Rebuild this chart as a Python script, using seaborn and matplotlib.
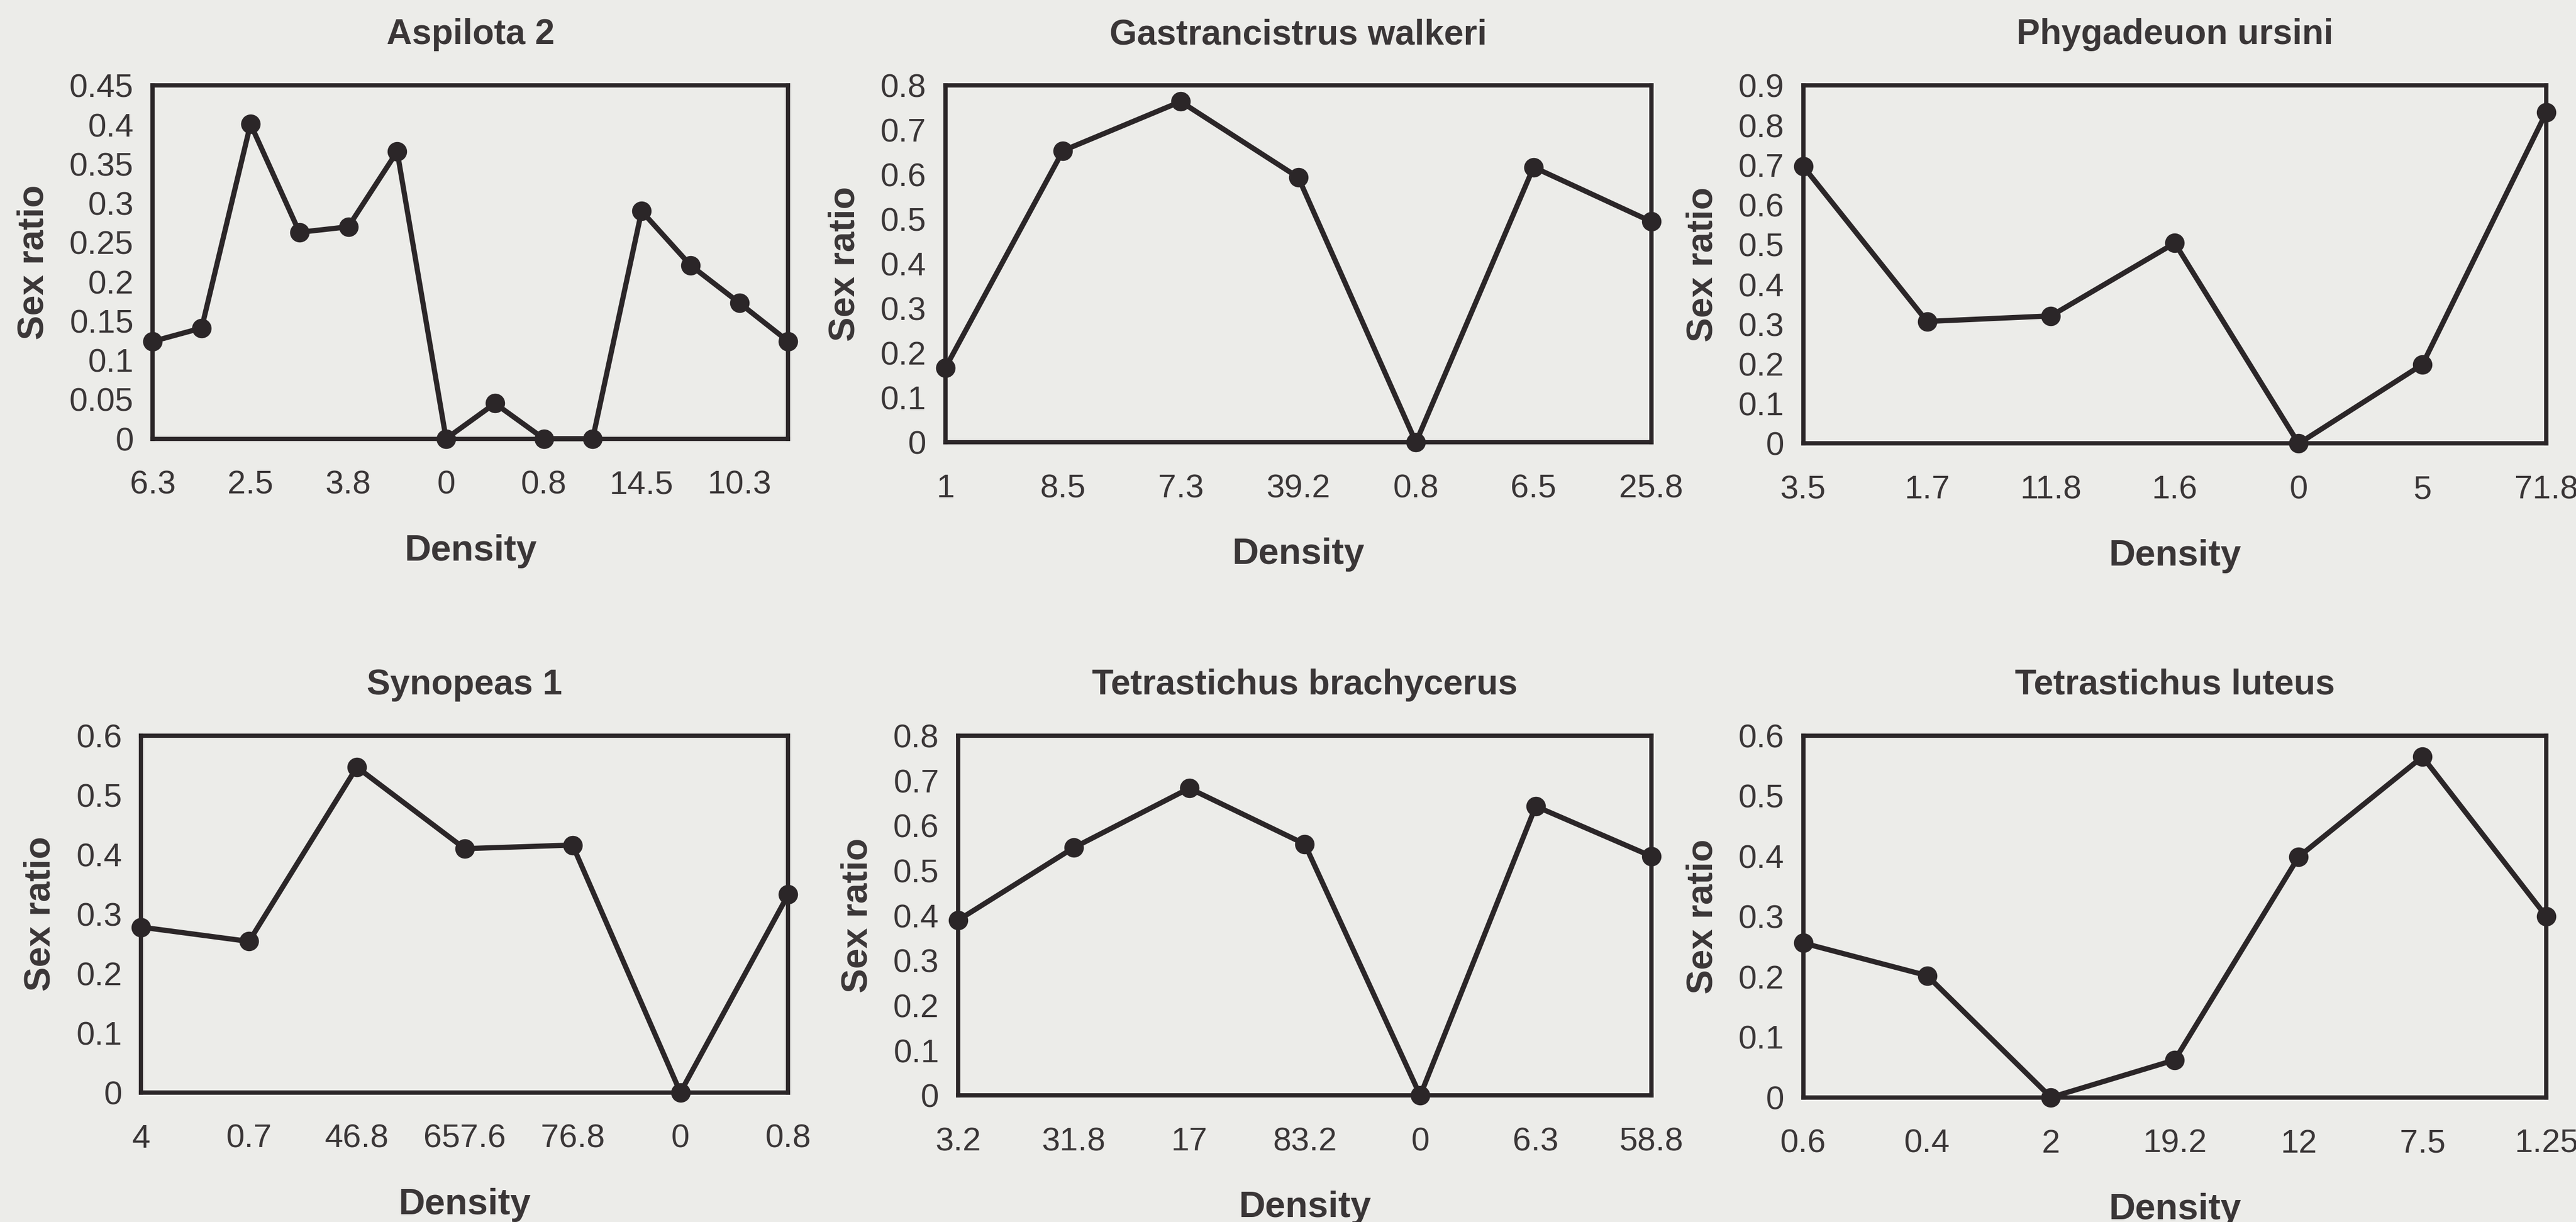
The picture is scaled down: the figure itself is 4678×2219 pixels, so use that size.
import numpy as np
import pandas as pd
import matplotlib
matplotlib.use("Agg")
import matplotlib.pyplot as plt
import seaborn as sns

# ---- data ----
titles = ["Aspilota 2", "Gastrancistrus walkeri", "Phygadeuon ursini",
          "Synopeas 1", "Tetrastichus brachycerus", "Tetrastichus luteus"]

aspilota_labels = ["6.3", "", "2.5", "", "3.8", "", "0", "", "0.8", "", "14.5", "", "10.3", ""]
aspilota_vals = [0.124, 0.141, 0.401, 0.263, 0.270, 0.366, 0.0, 0.045, 0.0, 0.0, 0.290, 0.221, 0.173, 0.124]

gastr_labels = ["1", "8.5", "7.3", "39.2", "0.8", "6.5", "25.8"]
gastr_vals = [0.167, 0.654, 0.764, 0.594, 0.0, 0.617, 0.495]

phyg_labels = ["3.5", "1.7", "11.8", "1.6", "0", "5", "71.8"]
phyg_vals = [0.697, 0.307, 0.321, 0.504, 0.0, 0.199, 0.833]

synop_labels = ["4", "0.7", "46.8", "657.6", "76.8", "0", "0.8"]
synop_vals = [0.278, 0.254, 0.547, 0.410, 0.416, 0.0, 0.333]

tbrach_labels = ["3.2", "31.8", "17", "83.2", "0", "6.3", "58.8"]
tbrach_vals = [0.390, 0.551, 0.683, 0.559, 0.0, 0.643, 0.532]

tlut_labels = ["0.6", "0.4", "2", "19.2", "12", "7.5", "1.25"]
tlut_vals = [0.256, 0.202, 0.0, 0.062, 0.399, 0.565, 0.300]

ymaxes = [0.45, 0.8, 0.9, 0.6, 0.8, 0.6]
ysteps = [0.05, 0.1, 0.1, 0.1, 0.1, 0.1]

# ---- style ----
sns.set_theme(style="white")
bg = "#ecece9"
ink = "#2b2628"
txt = "#3a3637"
plt.rcParams["font.family"] = ["Liberation Sans", "DejaVu Sans"]

fig = plt.figure(figsize=(4678 / 200, 2219 / 200), dpi=200, facecolor=bg)

rects = [
    (0.0593, 0.641, 0.306 - 0.0593, 0.930 - 0.641),
    (0.367, 0.638, 0.641 - 0.367, 0.930 - 0.638),
    (0.700, 0.637, 0.9885 - 0.700, 0.930 - 0.637),
    (0.0548, 0.106, 0.306 - 0.0548, 0.398 - 0.106),
    (0.372, 0.1035, 0.641 - 0.372, 0.398 - 0.1035),
    (0.700, 0.102, 0.9885 - 0.700, 0.398 - 0.102),
]

datasets = [
    (aspilota_labels, aspilota_vals),
    (gastr_labels, gastr_vals),
    (phyg_labels, phyg_vals),
    (synop_labels, synop_vals),
    (tbrach_labels, tbrach_vals),
    (tlut_labels, tlut_vals),
]

def fmt(v):
    s = f"{v:.2f}".rstrip("0").rstrip(".")
    return s if s else "0"

for i, (rect, (labels, vals)) in enumerate(zip(rects, datasets)):
    ax = fig.add_axes(rect)
    ax.set_facecolor(bg)
    df = pd.DataFrame({"pos": np.arange(len(vals)), "ratio": vals})
    sns.lineplot(data=df, x="pos", y="ratio", ax=ax, color=ink, linewidth=3.4,
                 marker="o", markersize=12, markeredgecolor=ink,
                 markerfacecolor=ink, clip_on=False, zorder=5)
    n = len(vals)
    ax.set_xlim(0, n - 1)
    ax.set_ylim(0, ymaxes[i])
    ax.set_xticks(np.arange(n))
    ax.set_xticklabels(labels)
    yt = np.arange(0, ymaxes[i] + 1e-9, ysteps[i])
    ax.set_yticks(yt)
    ax.set_yticklabels([fmt(v) for v in yt])
    for sp in ax.spines.values():
        sp.set_color(ink)
        sp.set_linewidth(2.8)
        sp.set_visible(True)
    ax.tick_params(axis="both", direction="inout", length=15, width=2.2,
                   color=ink, labelcolor=txt, labelsize=21.5)
    ax.tick_params(axis="x", pad=13)
    ax.tick_params(axis="y", pad=5)
    ax.set_title(titles[i], fontsize=23, fontweight="bold", color=txt, pad=27)
    ax.set_xlabel("Density", fontsize=24, fontweight="bold", color=txt, labelpad=22)
    ax.set_ylabel("Sex ratio", fontsize=24, fontweight="bold", color=txt, labelpad=12)
    ax.grid(False)

fig.savefig("out.png", dpi=200, facecolor=bg)
